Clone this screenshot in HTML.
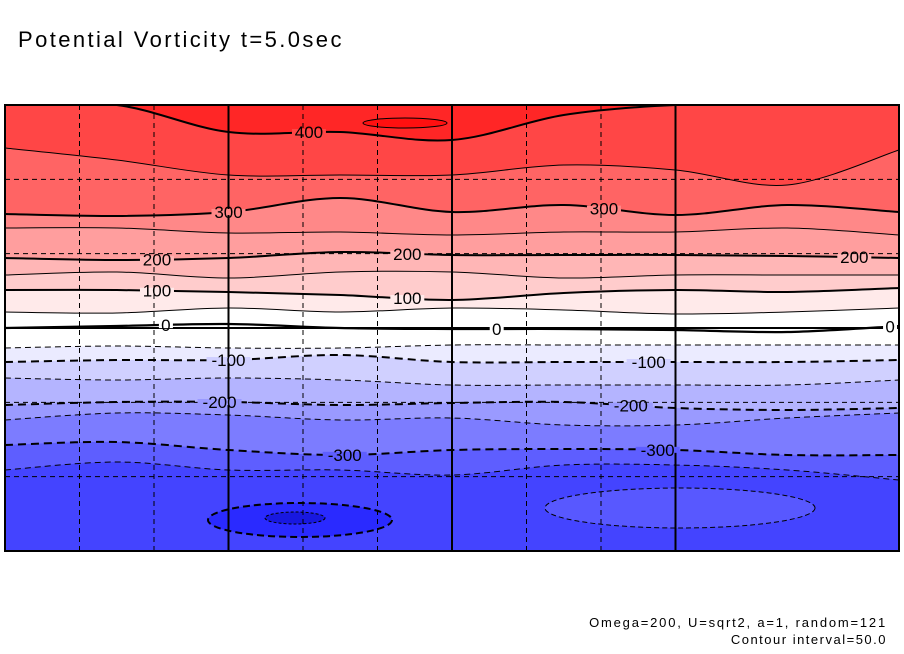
<!DOCTYPE html>
<html><head><meta charset="utf-8"><style>
html,body{margin:0;padding:0;background:#fff;}
svg{display:block;font-family:"Liberation Sans",sans-serif;}
</style></head><body>
<svg id="chart" width="904" height="654" viewBox="0 0 904 654">
<text x="18" y="47" font-size="22" letter-spacing="2.4" fill="#000">Potential Vorticity t=5.0sec</text>
<g id="plot"></g>
<text x="887" y="627" font-size="13" letter-spacing="1.8" text-anchor="end">Omega=200, U=sqrt2, a=1, random=121</text>
<text x="887" y="644" font-size="13" letter-spacing="1.5" text-anchor="end">Contour interval=50.0</text>
</svg>
<script>
const xFrac = [0, 0.125, 0.25, 0.375, 0.5, 0.625, 0.75, 0.875, 1];
const levels = [400, 350, 300, 250, 200, 150, 100, 50, 0, -50, -100, -150, -200, -250, -300, -350];
const contourY = [
 [105,105,132,132,140,115,105,105,105],
 [148,160,175,175,175,165,170,185,150],
 [214,216,212,198,212,205,215,205,212],
 [228,228,233,232,235,232,232,228,235],
 [258,260,258,252,255,255,255,256,258],
 [275,272,278,272,272,278,275,275,275],
 [290,290,292,295,300,293,290,292,288],
 [312,313,308,312,308,310,314,312,308],
 [328,326,324,328,329,329,330,332,326],
 [348,346,348,348,345,345,345,345,345],
 [362,360,360,355,362,362,362,362,360],
 [378,380,378,380,385,385,385,385,380],
 [405,402,402,405,403,402,408,410,408],
 [420,413,415,420,418,425,425,418,413],
 [445,442,450,455,450,449,450,455,455],
 [470,462,470,470,475,465,465,470,480]
];
const bandColors = ["#ff2626","#ff4646","#ff6464","#ff8888","#ff9e9e","#ffb6b6","#ffcccc","#ffeaea","#ffffff","#ffffff","#ebebff","#d0d0ff","#b4b4ff","#9a9aff","#7c7cff","#5e5eff","#4444ff"];
const labels = [[400,0.34],[300,0.25],[300,0.67],[200,0.17],[200,0.45],[200,0.95],[100,0.17],[100,0.45],[0,0.18],[0,0.55],[0,0.99],[-100,0.25],[-100,0.72],[-200,0.24],[-200,0.7],[-300,0.38],[-300,0.73]];

const X0=5, X1=899, Y0=105, Y1=551;
const NS="http://www.w3.org/2000/svg";
const plot=document.getElementById('plot');
function xs(f){return X0+f*(X1-X0);}
function mk(tag,attrs){const e=document.createElementNS(NS,tag);for(const k in attrs)e.setAttribute(k,attrs[k]);plot.appendChild(e);return e;}
function curve(ys){
  const p=ys.map((y,i)=>[xs(xFrac[i]),y]);
  let d=`M${p[0][0]},${p[0][1]}`;
  for(let i=0;i<p.length-1;i++){
    const a=p[Math.max(i-1,0)],b=p[i],c=p[i+1],e=p[Math.min(i+2,p.length-1)];
    d+=` C${b[0]+(c[0]-a[0])/6},${b[1]+(c[1]-a[1])/6} ${c[0]-(e[0]-b[0])/6},${c[1]-(e[1]-b[1])/6} ${c[0]},${c[1]}`;
  }
  return d;
}
function yAt(i,f){
  for(let k=0;k<xFrac.length-1;k++){if(f<=xFrac[k+1]){const t=(f-xFrac[k])/(xFrac[k+1]-xFrac[k]);return contourY[i][k]+t*(contourY[i][k+1]-contourY[i][k]);}}
  return contourY[i][xFrac.length-1];
}
const defs=mk('defs',{});
const cp=document.createElementNS(NS,'clipPath');cp.setAttribute('id','clip');defs.appendChild(cp);
const cr=document.createElementNS(NS,'rect');cr.setAttribute('x',X0);cr.setAttribute('y',Y0);cr.setAttribute('width',X1-X0);cr.setAttribute('height',Y1-Y0);cp.appendChild(cr);
const g=mk('g',{'clip-path':'url(#clip)'});
function add(tag,attrs,name){const e=document.createElementNS(NS,tag);for(const k in attrs)e.setAttribute(k,attrs[k]);g.appendChild(e);
  
  
  return e;}
add('rect',{x:X0,y:Y0,width:X1-X0,height:Y1-Y0,fill:bandColors[0]},'band-top');
levels.forEach((lv,i)=>{
  add('path',{d:curve(contourY[i])+` L${X1},${Y1} L${X0},${Y1} Z`,fill:bandColors[i+1]},'band-below-'+lv);
});
add('ellipse',{cx:405,cy:123,rx:42,ry:5,fill:'#ff1010',stroke:'#000','stroke-width':1},'max-cell');
add('ellipse',{cx:680,cy:508,rx:135,ry:20,fill:'#5858ff',stroke:'#000','stroke-width':1,'stroke-dasharray':'5,3'},'secondary-low-cell');
add('ellipse',{cx:300,cy:520,rx:92,ry:17,fill:'#2a2aff',stroke:'#000','stroke-width':2,'stroke-dasharray':'7,4'},'low-cell');
add('ellipse',{cx:295,cy:518,rx:30,ry:6,fill:'#1818e0',stroke:'#000','stroke-width':1,'stroke-dasharray':'3,2'},'low-core');
levels.forEach((lv,i)=>{
  const major = lv%100===0;
  const a={d:curve(contourY[i]),fill:'none',stroke:'#000','stroke-width':lv===0?2.2:(major?2:1)};
  if(lv<0)a['stroke-dasharray']=major?'8,5':'6,4';
  add('path',a,'contour-'+lv);
});
// grid
[1,2,4,5,7,8].forEach(k=>{add('line',{x1:X0+k*(X1-X0)/12,x2:X0+k*(X1-X0)/12,y1:Y0,y2:Y1,stroke:'#000','stroke-width':1,'stroke-dasharray':'5,4'},'grid-v-dashed');});
[3,6,9].forEach(k=>{add('line',{x1:X0+k*(X1-X0)/12,x2:X0+k*(X1-X0)/12,y1:Y0,y2:Y1,stroke:'#000','stroke-width':2},'grid-v-solid');});
[1,2,4,5].forEach(k=>{add('line',{x1:X0,x2:X1,y1:Y0+k*(Y1-Y0)/6,y2:Y0+k*(Y1-Y0)/6,stroke:'#000','stroke-width':1,'stroke-dasharray':'5,4'},'grid-h-dashed');});
add('line',{x1:X0,x2:X1,y1:Y0+3*(Y1-Y0)/6,y2:Y0+3*(Y1-Y0)/6,stroke:'#000','stroke-width':2},'equator-line');
labels.forEach(([lv,f])=>{
  const i=levels.indexOf(lv);
  const x=xs(f), y=yAt(i,f);
  const s=String(lv), w=s.length*10+4;
  add('rect',{x:x-w/2,y:y-3,width:w,height:6,fill:bandColors[i+1]},'label-gap');
  const t=add('text',{x:x,y:y+6,'font-size':17,'text-anchor':'middle',fill:'#000'},'contour-label-'+lv);
  t.textContent=s;
});
const fr=mk('rect',{x:X0,y:Y0,width:X1-X0,height:Y1-Y0,fill:'none',stroke:'#000','stroke-width':2});


</script>
</body></html>
